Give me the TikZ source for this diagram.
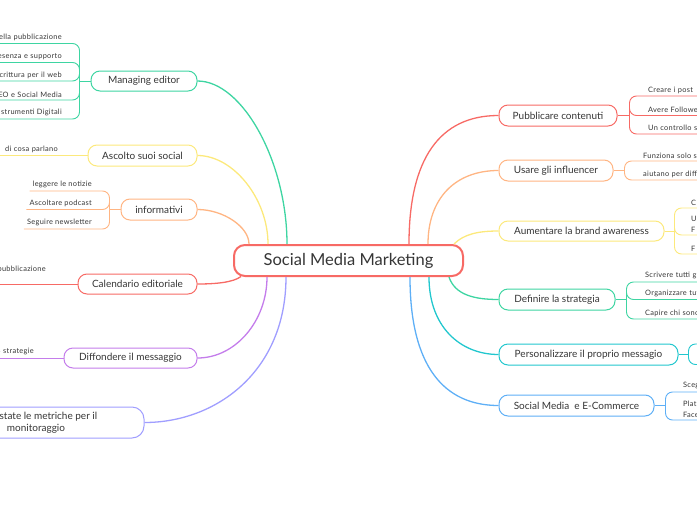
\documentclass[tikz,border=0pt]{standalone}
\usepackage{fontspec}
\setmainfont{Lato}
\newfontfamily\leaffont[LetterSpace=4]{Lato}
\usetikzlibrary{calc}
\definecolor{ink}{HTML}{363636}
\definecolor{cgreen}{HTML}{3ED5A2}
\definecolor{cyellow}{HTML}{FCE97C}
\definecolor{corange}{HTML}{FFB583}
\definecolor{cred}{HTML}{F76A65}
\definecolor{cpurple}{HTML}{C47DEB}
\definecolor{clav}{HTML}{A09EFF}
\definecolor{ccyan}{HTML}{22C7CE}
\definecolor{cblue}{HTML}{5EAFF6}
\begin{document}
\begin{tikzpicture}[x=1pt,y=-1pt,
  box/.style={draw, rounded corners=9pt, fill=white, line width=1pt, inner sep=0pt, text=ink, font=\fontsize{10}{12}\selectfont},
  conn/.style={line width=1.3pt},
  leaf/.style={inner xsep=3pt, inner ysep=2.5pt, text=ink, font=\leaffont\fontsize{7.4}{10.5}\selectfont},
  leafL/.style={leaf, anchor=south east, text width=90pt, align=right},
  leafR/.style={leaf, anchor=south west, text width=90pt, align=left},
  leafN/.style={leaf, anchor=south east},
  lline/.style={line width=0.9pt, rounded corners=7pt}]
\useasboundingbox (0,0) rectangle (697,520);
\clip (0,0) rectangle (697,520);

% central
\node[draw=cred, line width=2pt, rounded corners=11pt, fill=white, minimum width=229pt, minimum height=31pt, inner sep=0pt, text=ink, font=\fontsize{16.5}{19}\selectfont] (c) at (348.5,260.5) {Social Media Marketing};

% left boxes
\node[box, draw=cgreen, minimum width=106pt, minimum height=20pt] (me) at (144,81) {Managing editor};
\node[box, draw=cyellow, minimum width=109pt, minimum height=21pt] (as) at (142.5,155.5) {Ascolto suoi social};
\node[box, draw=corange, minimum width=76pt, minimum height=21pt] (inf) at (159,209.5) {informativi};
\node[box, draw=cred, minimum width=119pt, minimum height=20pt] (ca) at (137.5,284) {Calendario editoriale};
\node[box, draw=cpurple, minimum width=133pt, minimum height=20pt] (di) at (130.5,358) {Diffondere il messaggio};
\node[box, draw=clav, minimum width=216pt, minimum height=31pt, align=center, rounded corners=12pt] (mt) at (36,422.5) {\phantom{Sono }state le metriche per il\\monitoraggio};

% right boxes
\node[box, draw=cred, minimum width=118pt, minimum height=21pt] (pu) at (558,115.5) {Pubblicare contenuti};
\node[box, draw=corange, minimum width=114pt, minimum height=21pt] (us) at (556,170.5) {Usare gli influencer};
\node[box, draw=cyellow, minimum width=165pt, minimum height=20pt] (au) at (581.5,231) {Aumentare la brand awareness};
\node[box, draw=cgreen, minimum width=116pt, minimum height=21pt] (de) at (557,299.5) {Definire la strategia};
\node[box, draw=ccyan, minimum width=179pt, minimum height=21pt] (pe) at (588.5,354.5) {Personalizzare il proprio messagio};
\node[box, draw=cblue, minimum width=155pt, minimum height=21pt] (so) at (576.5,405.5) {Social Media~ e E-Commerce};

% attachment points on the central node
\coordinate (cMe) at ($(c.north west)+(54,0)$);
\coordinate (cAs) at ($(c.north west)+(35,0)$);
\coordinate (cIn) at ($(c.north west)+(16,0)$);
\coordinate (cCa) at ($(c.south west)+(8,-0.5)$);
\coordinate (cDi) at ($(c.south west)+(34,0)$);
\coordinate (cMt) at ($(c.south west)+(53,0)$);
\coordinate (cPu) at ($(c.north west)+(176,0)$);
\coordinate (cUs) at ($(c.north west)+(195,0)$);
\coordinate (cAu) at ($(c.north east)+(-10,0)$);
\coordinate (cDe) at ($(c.south east)+(-15,0)$);
\coordinate (cPe) at ($(c.south east)+(-35,0)$);
\coordinate (cSo) at ($(c.south east)+(-54,0)$);

% main connectors
\draw[conn,cgreen] (cMe) .. controls +(0,-82) and +(45,0) .. (me.east);
\draw[conn,cyellow] (cAs) .. controls +(0,-45) and +(36,0) .. (as.east);
\draw[conn,corange] (cIn) .. controls +(0,-17) and +(26,0) .. (inf.east);
\draw[conn,cred] (cCa) .. controls +(-8,6) and +(18,0) .. (ca.east);
\draw[conn,cpurple] (cDi) .. controls +(0,44) and +(38,0) .. (di.east);
\draw[conn,clav] (cMt) .. controls +(0,94) and +(72,0) .. (mt.east);
\draw[conn,cred] (cPu) .. controls +(0,-85) and +(-59,0) .. (pu.west);
\draw[conn,corange] (cUs) .. controls +(0,-45) and +(-44,0) .. (us.west);
\draw[conn,cyellow] (cAu) .. controls +(10,-10) and +(-20,0) .. (au.west);
\draw[conn,cgreen] (cDe) .. controls +(6,18) and +(-24,0) .. (de.west);
\draw[conn,ccyan] (cPe) .. controls +(0,50) and +(-38,0) .. (pe.west);
\draw[conn,cblue] (cSo) .. controls +(0,90) and +(-54,0) .. (so.west);

% Managing editor leaves
\coordinate (jMe) at ($(me.west)+(-11,0)$);
\node[leafL] (m1) at (65,43.5) {ella pubblicazione};
\node[leafL] (m2) at (65,62.5) {esenza e supporto};
\node[leafL] (m3) at (65,81) {scrittura per il web};
\node[leafL] (m4) at (65,100) {EO e Social Media};
\node[leafL] (m5) at (65,119) {i strumenti Digitali};
\draw[lline,cgreen] (me.west) -- (jMe);
\foreach \n in {m1,m2,m3,m4,m5} \draw[lline,cgreen] (jMe) |- (\n.south west);

% Ascolto leaf
\node[leafL] (a1) at (61,155.5) {di cosa parlano};
\draw[lline,cyellow] (as.west) -- (a1.south west);

% informativi leaves
\coordinate (jIn) at ($(inf.west)+(-11,0)$);
\node[leafN] (i1) at (95,191) {leggere le notizie};
\node[leafN] (i2) at (95,209.5) {Ascoltare podcast};
\node[leafN] (i3) at (95,229) {Seguire newsletter};
\draw[lline,corange] (inf.west) -- (jIn);
\foreach \n in {i1,i2,i3} \draw[lline,corange] (jIn) |- (\n.south west);

% Calendario leaf
\node[leafL, inner ysep=11pt] (k1) at (49,284) {pubblicazione};
\draw[lline,cred] (ca.west) -- (k1.south west);

% Diffondere leaf
\node[leafL] (d1) at (37,358) {3 strategie};
\draw[lline,cpurple] (di.west) -- (d1.south west);

% Pubblicare leaves
\coordinate (jPu) at ($(pu.east)+(12,0)$);
\node[leafR] (p1) at (645,96) {Creare i post};
\node[leafR] (p2) at (645,115.5) {Avere Follower};
\node[leafR] (p3) at (645,134) {Un controllo sp};
\draw[lline,cred] (pu.east) -- (jPu);
\foreach \n in {p1,p2,p3} \draw[lline,cred] (jPu) |- (\n.south east);

% Usare leaves
\coordinate (jUs) at ($(us.east)+(11,0)$);
\node[leafR] (u1) at (640,161) {Funziona solo se};
\node[leafR] (u2) at (640,180) {aiutano per diff};
\draw[lline,corange] (us.east) -- (jUs);
\foreach \n in {u1,u2} \draw[lline,corange] (jUs) |- (\n.south east);

% Aumentare leaves
\coordinate (jAu) at ($(au.east)+(10,0)$);
\node[leafR] (w1) at (688,208) {C};
\node[leafR] (w2) at (688,235) {U\\F};
\node[leafR] (w3) at (688,254) {F};
\draw[lline,cyellow] (au.east) -- (jAu);
\foreach \n in {w1,w2,w3} \draw[lline,cyellow] (jAu) |- (\n.south east);

% Definire leaves
\coordinate (jDe) at ($(de.east)+(11,0)$);
\node[leafR] (e1) at (642,282) {Scrivere tutti gli};
\node[leafR] (e2) at (642,299.5) {Organizzare tut};
\node[leafR] (e3) at (642,319) {Capire chi sono};
\draw[lline,cgreen] (de.east) -- (jDe);
\foreach \n in {e1,e2,e3} \draw[lline,cgreen] (jDe) |- (\n.south east);

% Personalizzare leaves
\coordinate (jPe) at ($(pe.east)+(10,0)$);
\coordinate (pe1) at (720,344);
\coordinate (pe2) at (720,364.5);
\draw[lline,ccyan] (pe.east) -- (jPe);
\draw[lline,ccyan] (jPe) |- (pe1);
\draw[lline,ccyan] (jPe) |- (pe2);

% Social Media e E-Commerce leaves
\coordinate (jSo) at ($(so.east)+(11,0)$);
\node[leafR] (s1) at (680,392) {Sceg};
\node[leafR] (s2) at (680,420) {Plat\\Face};
\draw[lline,cblue] (so.east) -- (jSo);
\foreach \n in {s1,s2} \draw[lline,cblue] (jSo) |- (\n.south east);
\end{tikzpicture}
\end{document}
